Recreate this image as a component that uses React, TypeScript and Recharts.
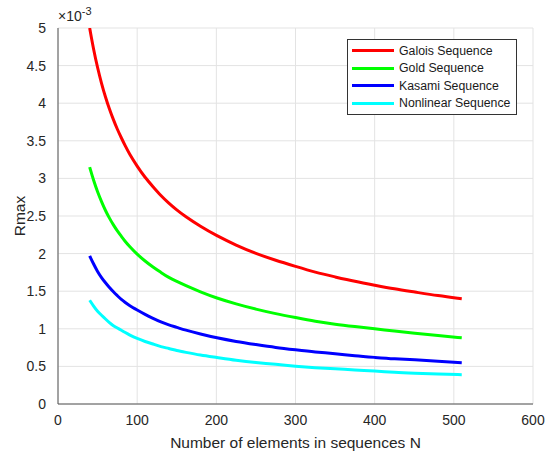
import React from 'react'
import { LineChart, Line, XAxis, YAxis, CartesianGrid, Label } from 'recharts'

// N values where the curves were sampled
const sizes = [40, 45, 50, 55, 60, 65, 70, 75, 80, 85, 90, 100, 110, 120, 130, 140, 150, 160, 180, 200, 225, 250, 275, 300, 325, 350, 375, 400, 425, 450, 480, 510]

// Rmax, in units of 10^-3
const galois = [5.0, 4.71, 4.47, 4.26, 4.08, 3.92, 3.78, 3.65, 3.54, 3.43, 3.33, 3.16, 3.01, 2.89, 2.77, 2.67, 2.58, 2.5, 2.36, 2.24, 2.11, 2.0, 1.91, 1.83, 1.75, 1.69, 1.63, 1.58, 1.53, 1.49, 1.44, 1.4]
const gold = [3.15, 2.97, 2.82, 2.69, 2.57, 2.47, 2.38, 2.3, 2.23, 2.16, 2.1, 1.99, 1.9, 1.82, 1.75, 1.68, 1.63, 1.58, 1.49, 1.41, 1.33, 1.26, 1.2, 1.15, 1.1, 1.06, 1.03, 1.0, 0.97, 0.94, 0.91, 0.88]
const kasami = [1.97, 1.86, 1.76, 1.68, 1.61, 1.55, 1.49, 1.44, 1.39, 1.35, 1.31, 1.25, 1.19, 1.14, 1.09, 1.05, 1.02, 0.985, 0.93, 0.88, 0.83, 0.79, 0.75, 0.72, 0.69, 0.67, 0.64, 0.62, 0.6, 0.59, 0.57, 0.55]
const nonlinear = [1.38, 1.3, 1.23, 1.18, 1.13, 1.08, 1.04, 1.01, 0.98, 0.95, 0.92, 0.87, 0.83, 0.8, 0.76, 0.74, 0.71, 0.69, 0.65, 0.62, 0.58, 0.55, 0.53, 0.5, 0.48, 0.47, 0.45, 0.44, 0.42, 0.41, 0.4, 0.39]

const xTicks = [0, 100, 200, 300, 400, 500, 600]
const yTicks = [0, 0.5, 1, 1.5, 2, 2.5, 3, 3.5, 4, 4.5, 5]

const series = [
  { key: 'galois', name: 'Galois Sequence', color: '#ff0000' },
  { key: 'gold', name: 'Gold Sequence', color: '#00ff00' },
  { key: 'kasami', name: 'Kasami Sequence', color: '#0000ff' },
  { key: 'nonlinear', name: 'Nonlinear Sequence', color: '#00ffff' },
]

const data = sizes.map((n, i) => ({
  n,
  galois: galois[i],
  gold: gold[i],
  kasami: kasami[i],
  nonlinear: nonlinear[i],
}))

const font = '"Liberation Sans", Arial, sans-serif'

function LegendBox() {
  return (
    <div style={{
      position: 'absolute', left: 347, top: 39, width: 170, boxSizing: 'border-box',
      border: '1px solid #333', background: '#fff', padding: '2px 4px 2px 4px',
      fontFamily: font, fontSize: 12.3, color: '#1a1a1a', whiteSpace: 'nowrap'
    }}>
      {series.map(s => (
        <div key={s.key} style={{ display: 'flex', alignItems: 'center', height: 17.5 }}>
          <div style={{ width: 42, height: 3, background: s.color, marginRight: 5, flexShrink: 0 }} />
          <span>{s.name}</span>
        </div>
      ))}
    </div>
  )
}

export default function App() {
  return (
    <div style={{ position: 'absolute', left: 0, top: 0, width: 547, height: 452, background: '#fff' }}>
      <LineChart width={547} height={452} data={data} margin={{ top: 28, right: 14, bottom: 0, left: 0 }}>
        <CartesianGrid stroke="#e3e3e3" strokeWidth={1} />
        <XAxis
          dataKey="n"
          type="number"
          domain={[0, 600]}
          ticks={xTicks}
          height={48}
          tickLine={false}
          axisLine={{ stroke: '#555' }}
          tick={{ fill: '#262626', fontSize: 14, fontFamily: font }}
          tickMargin={5}
        >
          <Label value="Number of elements in sequences N" position="insideBottom" offset={4} style={{ fill: '#262626', fontSize: 15.5, fontFamily: font }} />
        </XAxis>
        <YAxis
          type="number"
          domain={[0, 5]}
          ticks={yTicks}
          width={58}
          tickLine={false}
          axisLine={{ stroke: '#555' }}
          tick={{ fill: '#262626', fontSize: 14, fontFamily: font }}
          tickMargin={6}
          allowDataOverflow
        >
          <Label value="Rmax" angle={-90} position="insideLeft" offset={19} style={{ fill: '#262626', fontSize: 15.5, fontFamily: font, textAnchor: 'middle' }} />
        </YAxis>
        {series.map(s => (
          <Line
            key={s.key}
            type="basis"
            dataKey={s.key}
            name={s.name}
            stroke={s.color}
            strokeWidth={3}
            dot={false}
            isAnimationActive={false}
          />
        ))}
        <text x={58} y={21} fill="#262626" fontSize={14} fontFamily={font}>
          ×10<tspan dy={-6} fontSize={11}>-3</tspan>
        </text>
      </LineChart>
      <LegendBox />
    </div>
  )
}
